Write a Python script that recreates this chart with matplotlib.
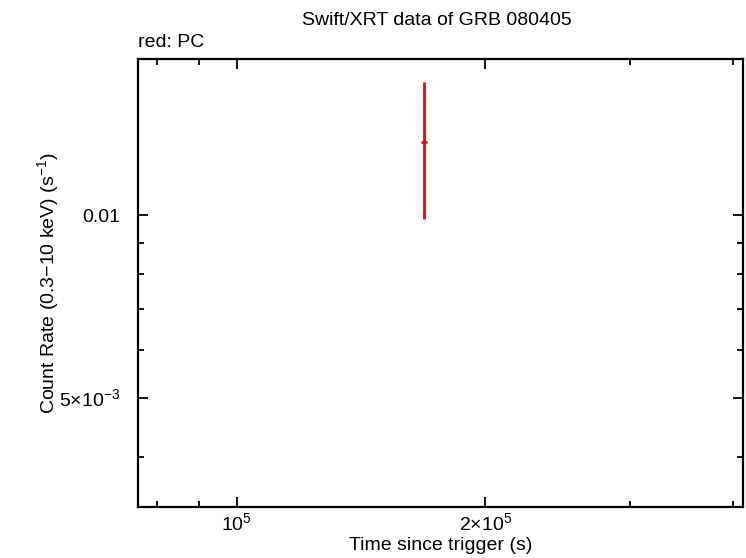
import numpy as np
import matplotlib.pyplot as plt
from matplotlib.ticker import FixedLocator, FixedFormatter, NullFormatter

plt.rcParams['font.family'] = ['Liberation Sans', 'DejaVu Sans']
plt.rcParams['mathtext.fontset'] = 'custom'
plt.rcParams['mathtext.rm'] = 'Liberation Sans'

# PC mode data point (time, rate, errors)
pc_time = np.array([1.686e5])
pc_time_err = np.array([1.4e3])
pc_rate = np.array([0.01318])
pc_rate_lo = np.array([0.01318 - 0.00985])
pc_rate_hi = np.array([0.01655 - 0.01318])

x_ticks = [1e5, 2e5]
x_labels = [r'$10^5$', r'$2{\times}10^5$']
x_minor = [8e4, 9e4, 3e5, 4e5]
y_ticks = [0.005, 0.01]
y_labels = [r'$5{\times}10^{-3}$', '0.01']
y_minor = [4e-3, 6e-3, 7e-3, 8e-3, 9e-3]

fig = plt.figure(figsize=(7.46, 5.58), dpi=100)
ax = fig.add_axes([0.185, 0.0914, 0.811, 0.803])

ax.errorbar(pc_time, pc_rate, xerr=pc_time_err, yerr=[pc_rate_lo, pc_rate_hi],
            fmt='none', ecolor='red', elinewidth=2.0, capsize=0)

ax.set_xscale('log')
ax.set_yscale('log')
ax.set_xlim(75860, 4.11e5)
ax.set_ylim(0.00331, 0.01806)

ax.xaxis.set_major_locator(FixedLocator(x_ticks))
ax.xaxis.set_major_formatter(FixedFormatter(x_labels))
ax.xaxis.set_minor_locator(FixedLocator(x_minor))
ax.xaxis.set_minor_formatter(NullFormatter())
ax.yaxis.set_major_locator(FixedLocator(y_ticks))
ax.yaxis.set_major_formatter(FixedFormatter(y_labels))
ax.yaxis.set_minor_locator(FixedLocator(y_minor))
ax.yaxis.set_minor_formatter(NullFormatter())

ax.tick_params(which='both', direction='in', top=True, right=True, width=1.3, labelsize=14)
ax.tick_params(which='major', length=7)
ax.tick_params(axis='x', which='major', pad=4)
ax.tick_params(axis='y', which='major', pad=13)
ax.tick_params(which='minor', length=4)
for s in ax.spines.values():
    s.set_linewidth(1.6)

ax.set_xlabel('Time since trigger (s)', fontsize=14, labelpad=1)
ax.set_ylabel(r'Count Rate (0.3$-$10 keV) (s$^{-1}$)', fontsize=14, labelpad=-2)
fig.text(0.585, 0.964, 'Swift/XRT data of GRB 080405', ha='center', va='center', fontsize=14)
fig.text(0.185, 0.923, 'red: PC', ha='left', va='center', fontsize=14)

fig.savefig('out.png', dpi=100)
